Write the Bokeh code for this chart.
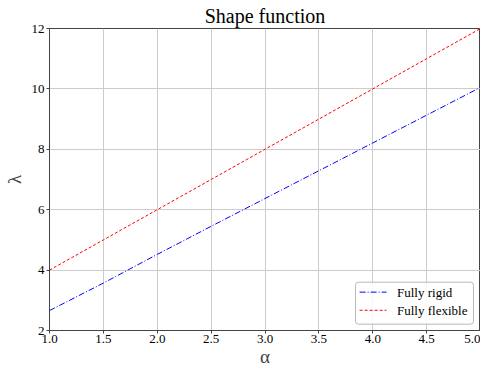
from bokeh.plotting import figure
from bokeh.embed import file_html
from bokeh.resources import INLINE
from bokeh.models import Range1d, FixedTicker, BoxAnnotation, Arrow, Label

alpha = [1.0, 1.5, 2.0, 2.5, 3.0, 3.5, 4.0, 4.5, 5.0]
rigid = [2.66, 3.57, 4.52, 5.45, 6.37, 7.29, 8.21, 9.13, 10.05]
flexible = [4.0, 5.0, 6.0, 7.0, 8.0, 9.0, 10.0, 11.0, 12.0]
xticks = [1.0, 1.5, 2.0, 2.5, 3.0, 3.5, 4.0, 4.5, 5.0]
yticks = [2, 4, 6, 8, 10, 12]
series_names = ["Fully rigid", "Fully flexible"]
series_colors = ["#0000ff", "#ff0000"]
series_dashes = ["6 2 1 2", "3 2"]

FONT = "Liberation Serif"

p = figure(frame_width=431, frame_height=302, output_backend="svg", toolbar_location=None,
           x_range=Range1d(1.0, 5.0), y_range=Range1d(2, 12),
           title="Shape function", min_border_left=0, min_border_right=0,
           min_border_top=0, min_border_bottom=0)

p.title.text_font = FONT
p.title.text_font_size = "20px"
p.title.text_font_style = "normal"
p.title.align = "center"
p.title.text_color = "black"
p.title.offset = 0
p.title.standoff = 4

for ys, c, d in zip([rigid, flexible], series_colors, series_dashes):
    p.line(alpha, ys, line_color=c, line_alpha=1.0, line_dash=d, line_width=1)

p.xaxis.ticker = FixedTicker(ticks=xticks)
p.yaxis.ticker = FixedTicker(ticks=yticks)
p.xaxis.major_label_overrides = {t: f"{t:.1f}" for t in xticks}
p.xaxis.axis_label = "α"
p.yaxis.axis_label = "λ"
p.xaxis.major_label_text_font = FONT
p.yaxis.major_label_text_font = FONT
for axes in (p.xaxis, p.yaxis):
    axes.axis_label_text_font = FONT
    axes.axis_label_text_font_size = "19px"
    axes.axis_label_text_font_style = "normal"
    axes.major_label_text_font_size = "13px"
    axes.major_label_text_color = "black"
    axes.axis_line_color = "#444444"
    axes.major_tick_line_color = "#444444"
    axes.major_tick_out = 3
    axes.major_tick_in = 0
    axes.minor_tick_line_color = None
    axes.major_label_standoff = 1
    axes.axis_label_standoff = 0
p.yaxis.major_label_orientation = "horizontal"
p.yaxis.major_label_standoff = 2
p.yaxis.axis_label_standoff = 4

p.outline_line_color = "#444444"
p.grid.grid_line_color = "#cccccc"
p.grid.grid_line_width = 1

# legend box (drawn as annotations, in data units of the frame)
p.add_layout(BoxAnnotation(left=3.84, right=4.935, bottom=2.21, top=3.60,
                           fill_color="white", fill_alpha=0.85,
                           line_color="#b8b8b8", line_alpha=1.0, line_width=1,
                           border_radius=3))
rows_y = [3.27, 2.67]
for name, c, d, yy in zip(series_names, series_colors, series_dashes, rows_y):
    p.add_layout(Arrow(end=None, x_start=3.878, y_start=yy, x_end=4.128, y_end=yy,
                       line_color=c, line_dash=d, line_width=1))
    p.add_layout(Label(x=4.225, y=yy, text=name, text_font=FONT, text_font_size="13px",
                       text_baseline="middle", text_align="left", text_color="black"))

open("out.html", "w").write(file_html(p, INLINE))
